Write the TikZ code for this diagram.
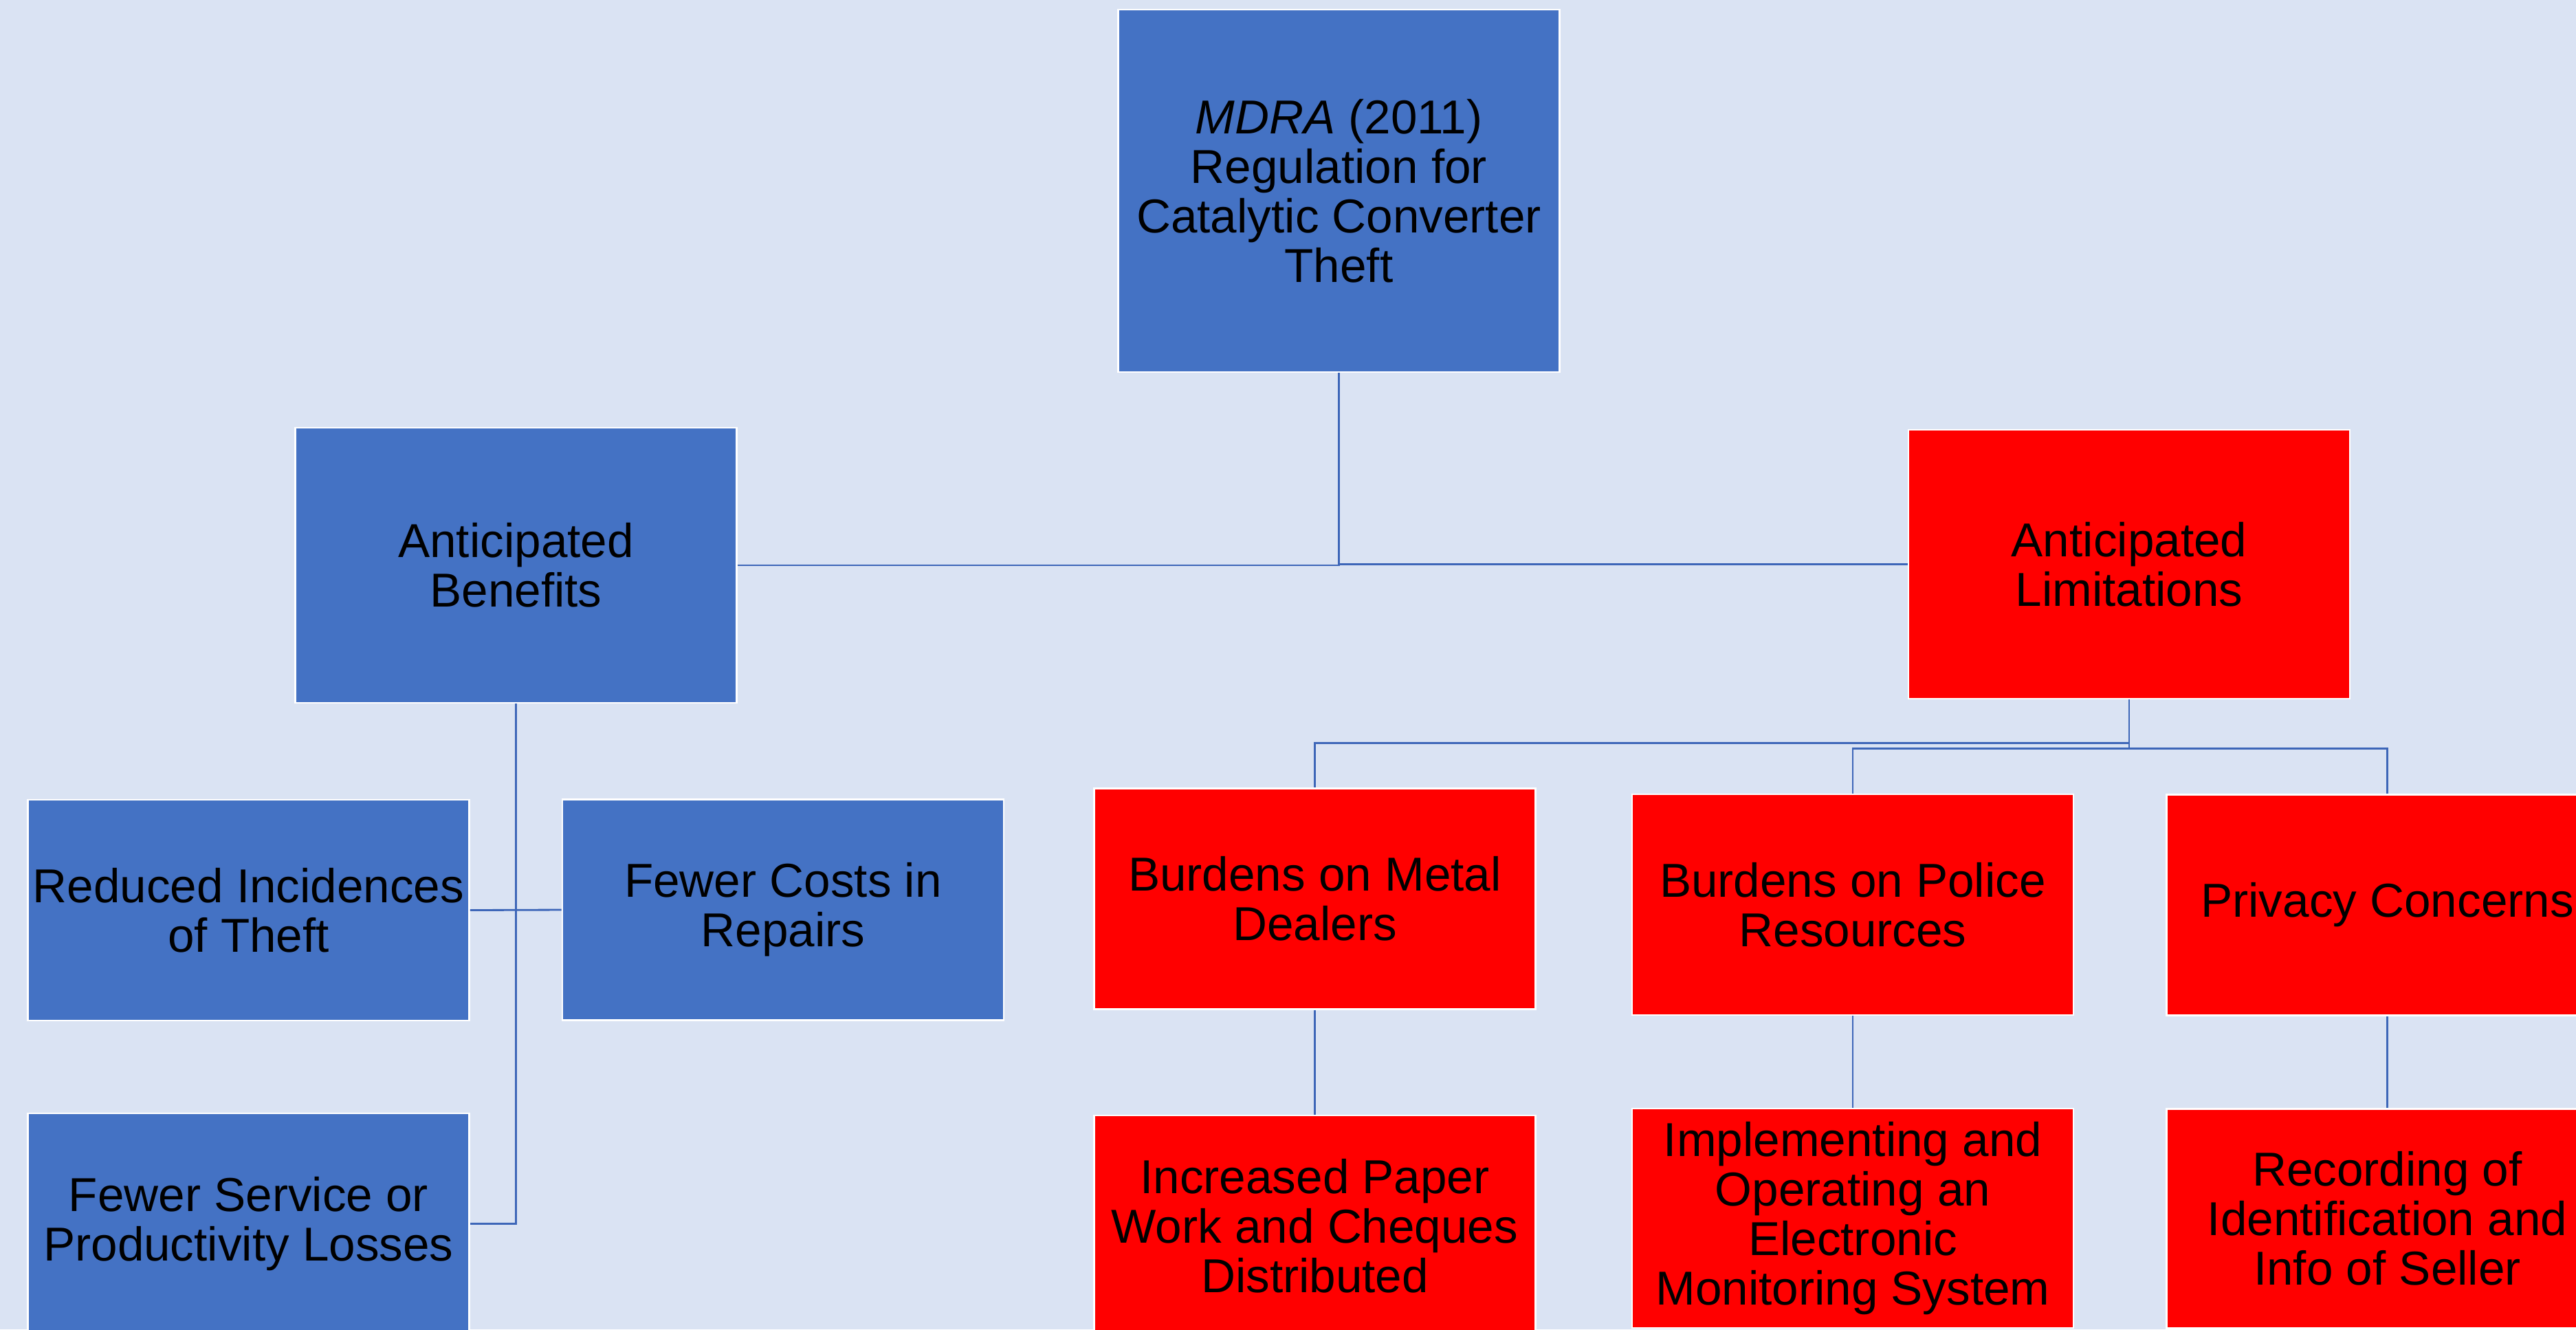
\documentclass[tikz,border=0pt]{standalone}
\usepackage{fontspec}
\setmainfont{Liberation Sans}
\usepackage{xcolor}
\definecolor{slide}{HTML}{DAE3F3}
\definecolor{accentblue}{HTML}{4472C4}
\definecolor{accentred}{HTML}{FF0000}
\definecolor{linkblue}{HTML}{3D66B8}

\begin{document}
\begin{tikzpicture}[box/.style={draw=white,line width=0.8pt,minimum width=6.42cm,minimum height=3.21cm,
    inner sep=0pt,align=center,font=\fontsize{19.7pt}{20.5pt}\selectfont},
    bluebox/.style={box,fill=accentblue}, redbox/.style={box,fill=accentred},
    link/.style={draw=linkblue,line width=0.8pt}]
    \useasboundingbox (0,0) rectangle (37.47,-19.33);
    \fill[slide] (0,0) rectangle (37.47,-19.33);
    \clip (0,0) rectangle (37.47,-19.33);

    \node[bluebox,minimum height=5.27cm] (mdra) at (19.475,-2.775)
    {\textit{MDRA} (2011)\\ Regulation for\\ Catalytic Converter\\ Theft};
    \node[bluebox,minimum height=4cm] (benefits) at (7.505,-8.22) {Anticipated\\ Benefits};
    \node[redbox,minimum height=3.91cm] (limits) at (30.97,-8.205) {Anticipated\\ Limitations};

    \node[bluebox] (reduced) at (3.615,-13.235) {Reduced Incidences\\ of Theft};
    \node[bluebox] (repairs) at (11.39,-13.23) {Fewer Costs in\\ Repairs};
    \node[bluebox] (losses) at (3.615,-17.795) {Fewer Service or\\ Productivity Losses};

    \node[redbox] (dealers) at (19.125,-13.07) {Burdens on Metal\\ Dealers};
    \node[redbox] (police) at (26.95,-13.155) {Burdens on Police\\ Resources};
    \node[redbox] (privacy) at (34.725,-13.16) {Privacy Concerns};
    \node[redbox] (paperwork) at (19.125,-17.825) {Increased Paper\\ Work and Cheques\\ Distributed};
    \node[redbox,minimum height=3.19cm] (monitoring) at (26.95,-17.715)
    {Implementing and\\ Operating an\\ Electronic\\ Monitoring System};
    \node[redbox,minimum height=3.19cm] (seller) at (34.725,-17.72)
    {Recording of\\ Identification and\\ Info of Seller};

    \path[link] (mdra.south) edge[to path={|- (\tikztotarget)}] (benefits.east)
    (mdra.south) edge[to path={|- (\tikztotarget)}] (limits.west)
    (benefits.south) edge[to path={|- (\tikztotarget)}] (losses.east)
    (reduced.east) edge (repairs.west)
    (limits.south) edge[to path={-- ++(0,-0.63) -| (\tikztotarget)}] (dealers.north)
    (limits.south) edge[to path={-- ++(0,-0.71) -| (\tikztotarget)}] (police.north)
    (limits.south) edge[to path={-- ++(0,-0.71) -| (\tikztotarget)}] (privacy.north)
    (dealers) edge (paperwork) (police) edge (monitoring) (privacy) edge (seller);
  \end{tikzpicture}
\end{document}
